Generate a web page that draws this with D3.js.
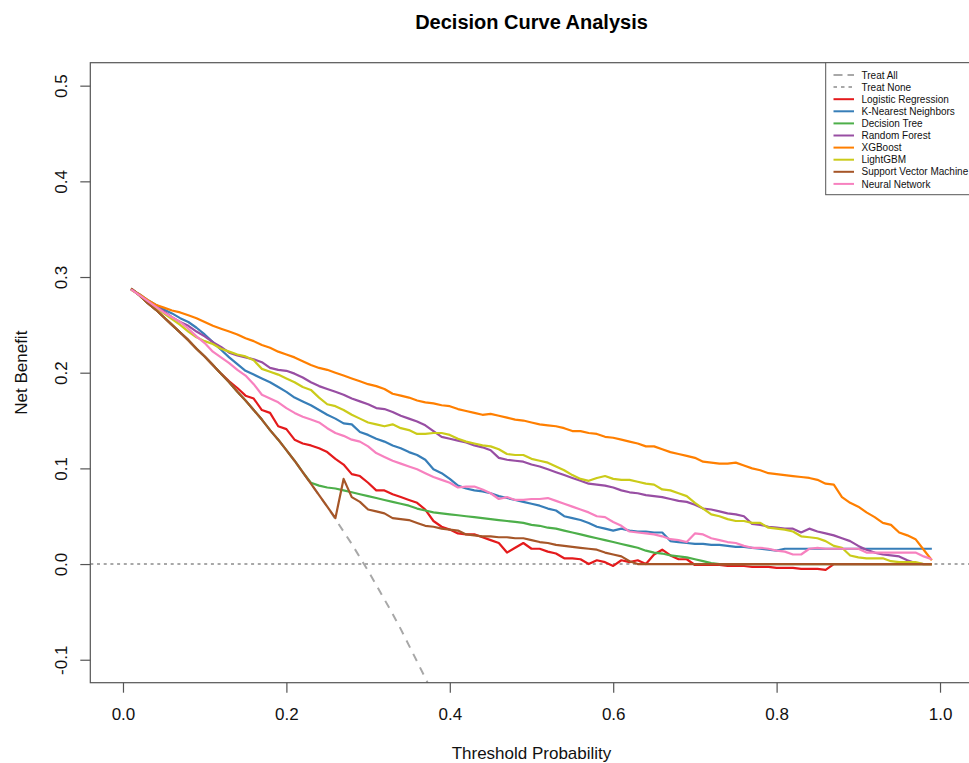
<!DOCTYPE html>
<html>
<head>
<meta charset="utf-8">
<script src="https://cdn.jsdelivr.net/npm/d3@7"></script>
<style>
  body { margin: 0; background: #fff; }
  svg { display: block; }
  text { font-family: "Liberation Sans", Arial, sans-serif; }
</style>
</head>
<body>
<svg id="chart" width="969" height="763"></svg>
<script>
// Threshold probabilities (x grid)
const thresholds = [
  0.01,0.02,0.03,0.04,0.05,0.06,0.07,0.08,0.09,0.10,
  0.11,0.12,0.13,0.14,0.15,0.16,0.17,0.18,0.19,0.20,
  0.21,0.22,0.23,0.24,0.25,0.26,0.27,0.28,0.29,0.30,
  0.31,0.32,0.33,0.34,0.35,0.36,0.37,0.38,0.39,0.40,
  0.41,0.42,0.43,0.44,0.45,0.46,0.47,0.48,0.49,0.50,
  0.51,0.52,0.53,0.54,0.55,0.56,0.57,0.58,0.59,0.60,
  0.61,0.62,0.63,0.64,0.65,0.66,0.67,0.68,0.69,0.70,
  0.71,0.72,0.73,0.74,0.75,0.76,0.77,0.78,0.79,0.80,
  0.81,0.82,0.83,0.84,0.85,0.86,0.87,0.88,0.89,0.90,
  0.91,0.92,0.93,0.94,0.95,0.96,0.97,0.98,0.99
];

// Reference strategies
const treatAll = [
  0.288,0.281,0.273,0.266,0.258,0.250,0.242,0.234,0.225,0.217,
  0.208,0.199,0.190,0.180,0.171,0.161,0.151,0.140,0.130,0.119,
  0.108,0.096,0.084,0.072,0.060,0.047,0.034,0.021,0.007,-0.007,
  -0.022,-0.037,-0.052,-0.068,-0.085,-0.102,-0.119,-0.137
];
const treatNone = [0, 0];
const treatNoneX = [-0.04, 1.04];

// Net benefit per model
const logistic = [
  0.288,0.281,0.273,0.266,0.258,0.250,0.242,0.234,0.225,0.217,
  0.208,0.199,0.191,0.184,0.176,0.173,0.161,0.158,0.144,0.141,
  0.130,0.126,0.124,0.121,0.117,0.110,0.104,0.094,0.092,0.085,
  0.077,0.077,0.073,0.070,0.067,0.064,0.057,0.045,0.039,0.036,
  0.032,0.031,0.031,0.028,0.025,0.022,0.012,0.017,0.022,0.016,
  0.016,0.013,0.011,0.006,0.006,0.005,0.000,0.004,0.002,-0.002,
  0.004,0.002,0.004,0.000,0.010,0.015,0.009,0.005,0.005,-0.001,
  -0.001,-0.001,-0.001,-0.002,-0.002,-0.002,-0.003,-0.003,-0.003,-0.004,
  -0.004,-0.004,-0.005,-0.005,-0.005,-0.006,0,0,0,0,
  0,0,0,0,0,0,0,0,0
];
const knn = [
  0.287,0.282,0.276,0.271,0.266,0.262,0.257,0.253,0.247,0.240,
  0.232,0.224,0.216,0.209,0.202,0.198,0.194,0.190,0.185,0.180,
  0.174,0.170,0.166,0.161,0.156,0.152,0.147,0.146,0.138,0.135,
  0.131,0.128,0.124,0.121,0.117,0.114,0.109,0.099,0.095,0.089,
  0.082,0.079,0.077,0.076,0.074,0.071,0.069,0.067,0.065,0.063,
  0.061,0.058,0.056,0.050,0.048,0.046,0.043,0.039,0.037,0.035,
  0.037,0.035,0.034,0.034,0.033,0.033,0.024,0.023,0.022,0.021,
  0.021,0.020,0.020,0.019,0.018,0.018,0.017,0.016,0.015,0.014,
  0.016,0.016,0.016,0.016,0.016,0.016,0.016,0.016,0.016,0.016,
  0.016,0.016,0.016,0.016,0.016,0.016,0.016,0.016,0.016
];
const decisionTree = [
  0.288,0.281,0.273,0.266,0.258,0.250,0.242,0.234,0.225,0.217,
  0.208,0.199,0.190,0.180,0.171,0.161,0.151,0.140,0.130,0.119,
  0.108,0.096,0.085,0.082,0.080,0.079,0.077,0.075,0.073,0.071,
  0.069,0.067,0.065,0.063,0.061,0.058,0.056,0.054,0.053,0.052,
  0.051,0.050,0.049,0.048,0.047,0.046,0.045,0.044,0.043,0.041,
  0.040,0.038,0.037,0.035,0.033,0.031,0.029,0.027,0.025,0.023,
  0.021,0.019,0.017,0.014,0.012,0.011,0.009,0.008,0.007,0.005,
  0.003,0.001,0,0,0,0,0,0,0,0,
  0,0,0,0,0,0,0,0,0,0,
  0,0,0,0,0,0,0,0,0
];
const randomForest = [
  0.287,0.281,0.275,0.269,0.264,0.258,0.253,0.249,0.243,0.238,
  0.232,0.227,0.221,0.218,0.216,0.214,0.211,0.205,0.203,0.202,
  0.199,0.195,0.190,0.186,0.183,0.180,0.177,0.173,0.170,0.167,
  0.163,0.162,0.159,0.155,0.152,0.149,0.145,0.139,0.133,0.131,
  0.129,0.127,0.124,0.122,0.119,0.111,0.109,0.108,0.107,0.104,
  0.102,0.099,0.096,0.093,0.090,0.087,0.084,0.083,0.082,0.080,
  0.077,0.075,0.074,0.072,0.071,0.070,0.068,0.066,0.065,0.062,
  0.058,0.057,0.055,0.053,0.052,0.050,0.042,0.041,0.039,0.038,
  0.037,0.037,0.033,0.037,0.034,0.032,0.030,0.027,0.024,0.019,
  0.015,0.012,0.010,0.009,0.008,0.004,0.001,0,0
];
const xgboost = [
  0.287,0.282,0.276,0.271,0.268,0.265,0.263,0.260,0.257,0.253,
  0.249,0.246,0.243,0.240,0.236,0.233,0.229,0.226,0.222,0.219,
  0.216,0.212,0.208,0.205,0.203,0.200,0.197,0.194,0.191,0.188,
  0.186,0.183,0.178,0.176,0.174,0.171,0.169,0.168,0.166,0.165,
  0.162,0.160,0.158,0.156,0.157,0.155,0.153,0.151,0.150,0.148,
  0.146,0.145,0.144,0.142,0.139,0.139,0.137,0.136,0.133,0.132,
  0.130,0.128,0.126,0.123,0.123,0.120,0.117,0.115,0.113,0.111,
  0.107,0.106,0.105,0.105,0.106,0.103,0.100,0.098,0.095,0.094,
  0.093,0.092,0.091,0.090,0.088,0.084,0.083,0.070,0.064,0.060,
  0.054,0.049,0.043,0.041,0.033,0.030,0.026,0.015,0.004
];
const lightgbm = [
  0.287,0.281,0.274,0.268,0.262,0.256,0.250,0.243,0.237,0.233,
  0.230,0.225,0.222,0.219,0.217,0.213,0.204,0.201,0.198,0.194,
  0.190,0.185,0.182,0.174,0.167,0.165,0.161,0.156,0.152,0.148,
  0.146,0.144,0.146,0.142,0.140,0.136,0.136,0.137,0.137,0.135,
  0.131,0.128,0.126,0.124,0.123,0.120,0.115,0.114,0.114,0.110,
  0.108,0.106,0.102,0.098,0.093,0.089,0.087,0.090,0.092,0.089,
  0.088,0.088,0.086,0.084,0.083,0.078,0.077,0.074,0.071,0.064,
  0.058,0.052,0.050,0.047,0.045,0.045,0.043,0.043,0.038,0.037,
  0.036,0.034,0.029,0.028,0.027,0.024,0.019,0.017,0.009,0.007,
  0.006,0.006,0.006,0.003,0.002,0.002,0.002,0,0
];
const svm = [
  0.288,0.281,0.273,0.266,0.258,0.250,0.242,0.234,0.225,0.217,
  0.208,0.199,0.190,0.180,0.171,0.161,0.151,0.140,0.130,0.119,
  0.108,0.096,0.084,0.072,0.060,0.048,0.089,0.070,0.065,0.057,
  0.055,0.053,0.048,0.047,0.046,0.043,0.040,0.039,0.037,0.036,
  0.035,0.031,0.030,0.029,0.029,0.028,0.028,0.027,0.027,0.025,
  0.023,0.022,0.020,0.019,0.018,0.017,0.016,0.015,0.012,0.010,
  0.008,0.003,0,0,0,0,0,0,0,0,
  0,0,0,0,0,0,0,0,0,0,
  0,0,0,0,0,0,0,0,0,0,
  0,0,0,0,0,0,0,0,0
];
const neuralNet = [
  0.287,0.281,0.275,0.269,0.263,0.258,0.253,0.246,0.238,0.231,
  0.222,0.216,0.210,0.203,0.197,0.188,0.177,0.173,0.169,0.163,
  0.158,0.154,0.151,0.148,0.142,0.137,0.134,0.130,0.128,0.123,
  0.116,0.112,0.108,0.105,0.102,0.099,0.095,0.091,0.088,0.085,
  0.080,0.081,0.081,0.078,0.074,0.068,0.070,0.067,0.067,0.068,
  0.068,0.069,0.066,0.063,0.060,0.057,0.054,0.050,0.049,0.044,
  0.040,0.034,0.033,0.032,0.031,0.029,0.026,0.025,0.023,0.032,
  0.031,0.027,0.025,0.023,0.022,0.019,0.017,0.017,0.016,0.014,
  0.013,0.010,0.010,0.016,0.017,0.016,0.016,0.016,0.016,0.016,
  0.012,0.012,0.012,0.012,0.012,0.012,0.012,0.008,0.005
];

const modelNames = ["Logistic Regression","K-Nearest Neighbors","Decision Tree","Random Forest",
                    "XGBoost","LightGBM","Support Vector Machine","Neural Network"];
const modelColors = ["#E41A1C","#377EB8","#4DAF4A","#984EA3","#FF7F00","#CBCB1A","#A65628","#F781BF"];
const modelValues = [logistic, knn, decisionTree, randomForest, xgboost, lightgbm, svm, neuralNet];

const xTicks = [0, 0.2, 0.4, 0.6, 0.8, 1.0];
const yTicks = [-0.1, 0, 0.1, 0.2, 0.3, 0.4, 0.5];
const refColor = "#A8A8A8";

const svg = d3.select("#chart");
const plot = { left: 90.3, right: 972.7, top: 62.7, bottom: 682.7 };

const x = d3.scaleLinear().domain([-0.04, 1.04]).range([plot.left, plot.right]);
const y = d3.scaleLinear().domain([-0.124, 0.524]).range([plot.bottom, plot.top]);

svg.append("defs").append("clipPath").attr("id", "plot-clip")
  .append("rect")
  .attr("x", plot.left).attr("y", plot.top)
  .attr("width", plot.right - plot.left).attr("height", plot.bottom - plot.top);

const line = d3.line().x(d => x(d[0])).y(d => y(d[1]));
const curves = svg.append("g").attr("clip-path", "url(#plot-clip)");

// Treat All
curves.append("path")
  .attr("d", line(treatAll.map((v, i) => [thresholds[i], v])))
  .attr("fill", "none").attr("stroke", refColor).attr("stroke-width", 2)
  .attr("stroke-dasharray", "8,7");

// Treat None
curves.append("path")
  .attr("d", line(treatNone.map((v, i) => [treatNoneX[i], v])))
  .attr("fill", "none").attr("stroke", refColor).attr("stroke-width", 2)
  .attr("stroke-dasharray", "3,3.7");

// Model curves
modelValues.forEach((vals, k) => {
  curves.append("path")
    .attr("d", line(vals.map((v, i) => [thresholds[i], v])))
    .attr("fill", "none")
    .attr("stroke", modelColors[k])
    .attr("stroke-width", 2.2)
    .attr("stroke-linejoin", "round");
});

// Frame
svg.append("rect")
  .attr("x", plot.left).attr("y", plot.top)
  .attr("width", plot.right - plot.left).attr("height", plot.bottom - plot.top)
  .attr("fill", "none").attr("stroke", "#555").attr("stroke-width", 1.2);

// Axes (plain hyphen for negative labels)
const fmt = v => d3.format(".1f")(v).replace("\u2212", "-");
const xAxis = svg.append("g")
  .attr("transform", `translate(0,${plot.bottom})`)
  .call(d3.axisBottom(x).tickValues(xTicks).tickFormat(fmt).tickSize(10).tickSizeOuter(0));
xAxis.select(".domain").remove();
xAxis.selectAll(".tick line").attr("stroke", "#555").attr("stroke-width", 1.2);
xAxis.selectAll(".tick text")
  .attr("y", 37).attr("dy", 0)
  .attr("font-size", 17).attr("fill", "#111")
  .style("font-family", "'Liberation Sans', Arial, sans-serif");

const yAxis = svg.append("g")
  .attr("transform", `translate(${plot.left},0)`)
  .call(d3.axisLeft(y).tickValues(yTicks).tickFormat(fmt).tickSize(10).tickSizeOuter(0));
yAxis.select(".domain").remove();
yAxis.selectAll(".tick line").attr("stroke", "#555").attr("stroke-width", 1.2);
yAxis.selectAll(".tick text")
  .attr("transform", "rotate(-90)")
  .attr("x", 0).attr("y", -23.5).attr("dy", 0)
  .attr("text-anchor", "middle")
  .attr("font-size", 17).attr("fill", "#111")
  .style("font-family", "'Liberation Sans', Arial, sans-serif");

// Titles
const cx = (plot.left + plot.right) / 2;
svg.append("text")
  .attr("x", cx).attr("y", 28.5)
  .attr("text-anchor", "middle")
  .attr("font-size", 20).attr("font-weight", "bold").attr("fill", "#000")
  .text("Decision Curve Analysis");
svg.append("text")
  .attr("x", cx).attr("y", 759)
  .attr("text-anchor", "middle")
  .attr("font-size", 17).attr("fill", "#111")
  .text("Threshold Probability");
svg.append("text")
  .attr("transform", `translate(26.5,${(plot.top + plot.bottom) / 2}) rotate(-90)`)
  .attr("text-anchor", "middle")
  .attr("font-size", 17).attr("fill", "#111")
  .text("Net Benefit");

// Legend
const legendNames = ["Treat All", "Treat None"].concat(modelNames);
const legendColors = [refColor, refColor].concat(modelColors);
const legendDash = ["9,5", "3.5,4"].concat(modelNames.map(() => null));
const lg = svg.append("g");
lg.append("rect")
  .attr("x", 825.7).attr("y", plot.top)
  .attr("width", 160).attr("height", 132)
  .attr("fill", "#fff").attr("stroke", "#555").attr("stroke-width", 1);
legendNames.forEach((name, i) => {
  const ly = 75 + i * 12.1;
  lg.append("line")
    .attr("x1", 833.5).attr("x2", 854).attr("y1", ly).attr("y2", ly)
    .attr("stroke", legendColors[i]).attr("stroke-width", 2)
    .attr("stroke-dasharray", legendDash[i]);
  lg.append("text")
    .attr("x", 861.5).attr("y", ly + 3.6)
    .attr("font-size", 10).attr("fill", "#111")
    .text(name);
});
</script>
</body>
</html>
